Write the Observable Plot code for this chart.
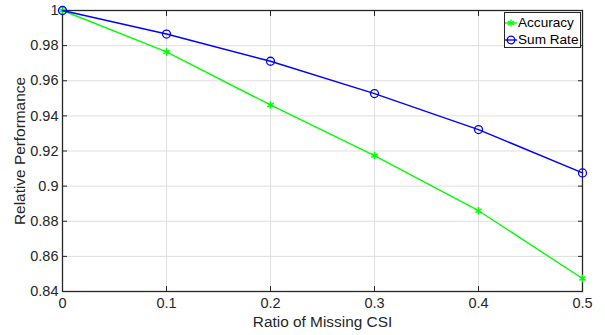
<!DOCTYPE html>
<html><head><meta charset="utf-8">
<script src="https://cdn.jsdelivr.net/npm/d3@7"></script>
<script src="https://cdn.jsdelivr.net/npm/@observablehq/plot@0.6"></script>
<style>
body{margin:0;background:#fff;}
#wrap{position:relative;width:605px;height:335px;font-family:"Liberation Sans",Arial,sans-serif;}
#legend{position:absolute;left:504px;top:12px;width:77px;height:36px;border:1px solid #262626;background:#fff;font-size:13.6px;color:#000;box-sizing:border-box;padding-top:1px;}
#legend div{height:17px;line-height:17px;display:flex;align-items:center;white-space:nowrap;}
#legend svg{flex:none;}
</style></head><body>
<div id="wrap"><div id="legend"></div></div>
<script>
const ratios = [0, 0.1, 0.2, 0.3, 0.4, 0.5];
const accuracy = [1, 0.9764, 0.9462, 0.9174, 0.886, 0.8474];
const sumRate = [1, 0.9866, 0.9711, 0.9527, 0.9322, 0.9075];
const xTicks = [0, 0.1, 0.2, 0.3, 0.4, 0.5];
const xTickLabels = ["0", "0.1", "0.2", "0.3", "0.4", "0.5"];
const yTicks = [0.84, 0.86, 0.88, 0.9, 0.92, 0.94, 0.96, 0.98, 1];
const yTickLabels = ["0.84", "0.86", "0.88", "0.9", "0.92", "0.94", "0.96", "0.98", "1"];
const seriesNames = ["Accuracy", "Sum Rate"];

const accData = ratios.map((r, i) => ({x: r, y: accuracy[i]}));
const srData = ratios.map((r, i) => ({x: r, y: sumRate[i]}));
const fx = d => xTickLabels[xTicks.indexOf(d)];
const fy = d => yTickLabels[yTicks.indexOf(d)];
const axisColor = "#262626";
const textColor = "#262626";

const chart = Plot.plot({
  width: 605, height: 335,
  marginLeft: 62, marginRight: 23, marginTop: 10, marginBottom: 44,
  style: {fontFamily: '"Liberation Sans", Arial, sans-serif', fontSize: "14px", color: textColor, background: "#fff"},
  x: {domain: [0, 0.5]},
  y: {domain: [0.84, 1]},
  marks: [
    Plot.gridX(xTicks, {stroke: "#dfdfdf", strokeOpacity: 1}),
    Plot.gridY(yTicks, {stroke: "#dfdfdf", strokeOpacity: 1}),
    Plot.axisX({ticks: xTicks, tickFormat: fx, tickSize: -5, tickPadding: 11, stroke: axisColor, fontSize: 14.5,
      label: null}),
    Plot.axisX({ticks: [], label: "Ratio of Missing CSI", labelAnchor: "center", labelArrow: "none", labelOffset: 35, fontSize: 15.4, tickSize: 0}),
    Plot.axisX({anchor: "top", ticks: xTicks, tickFormat: () => "", tickSize: -5, stroke: axisColor, label: null}),
    Plot.axisY({ticks: yTicks, tickFormat: fy, tickSize: -5, tickPadding: 9, stroke: axisColor, fontSize: 14.5,
      label: null}),
    Plot.axisY({ticks: [], label: "Relative Performance", labelAnchor: "center", labelArrow: "none", labelOffset: 48, fontSize: 15.4, tickSize: 0}),
    Plot.axisY({anchor: "right", ticks: yTicks, tickFormat: () => "", tickSize: -5, stroke: axisColor, label: null}),
    Plot.frame({stroke: axisColor, strokeWidth: 1.3}),
    Plot.line(accData, {x: "x", y: "y", stroke: "#00ff00", strokeWidth: 1.4}),
    Plot.dot(accData, {x: "x", y: "y", symbol: "asterisk", r: 3.5, stroke: "#00ff00", strokeWidth: 1.5}),
    Plot.line(srData, {x: "x", y: "y", stroke: "#0000ff", strokeWidth: 1.4}),
    Plot.dot(srData, {x: "x", y: "y", symbol: "circle", r: 4, stroke: "#0000ff", fill: "none", strokeWidth: 1.3})
  ]
});
const wrap = document.getElementById("wrap");
wrap.insertBefore(chart, wrap.firstChild);
chart.style.position = "absolute"; chart.style.left = "0"; chart.style.top = "0";

const legend = document.getElementById("legend");
const sym = [
  '<svg width="12" height="12"><line x1="0" y1="6" x2="12" y2="6" stroke="#00ff00" stroke-width="1.4"/><g stroke="#00ff00" stroke-width="1.4"><line x1="6" y1="2.5" x2="6" y2="9.5"/><line x1="2.8" y1="4.2" x2="9.2" y2="7.8"/><line x1="2.8" y1="7.8" x2="9.2" y2="4.2"/></g></svg>',
  '<svg width="12" height="12"><line x1="0" y1="6" x2="12" y2="6" stroke="#0000ff" stroke-width="1.4"/><circle cx="6" cy="6" r="3.8" fill="none" stroke="#0000ff" stroke-width="1.3"/></svg>'
];
seriesNames.forEach((n, i) => {
  const row = document.createElement("div");
  row.innerHTML = sym[i] + '<span style="margin-left:1px">' + n + '</span>';
  legend.appendChild(row);
});
</script>
</body></html>
